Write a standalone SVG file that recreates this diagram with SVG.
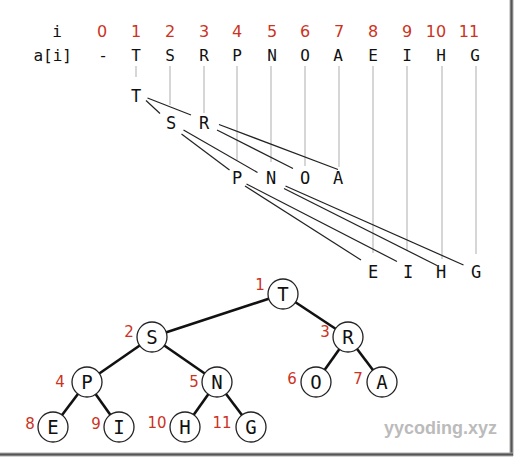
<svg xmlns="http://www.w3.org/2000/svg" width="515" height="458" viewBox="0 0 515 458">
<style>
.lt{font-family:"DejaVu Sans Mono","Liberation Mono",monospace;font-size:16px;fill:#111;text-anchor:middle}
.lm{font-size:17px}
.lc{font-size:19px}
.rd{font-family:"DejaVu Sans","Liberation Sans",sans-serif;font-size:16px;fill:#cc3322;text-anchor:middle}
.rs{font-family:"DejaVu Sans","Liberation Sans",sans-serif;font-size:15px;fill:#cc3322;text-anchor:middle}
.gl{stroke:#bbb;stroke-width:1.2;fill:none}
.bl{stroke:#222;stroke-width:1.2;fill:none}
.te{stroke:#111;stroke-width:2.6;fill:none}
.nc{fill:#fff;stroke:#222;stroke-width:1.3}
</style>
<rect width="515" height="458" fill="#fff"/>
<g id="frame">
<line x1="511.5" y1="0" x2="511.5" y2="456" stroke="#aaa" stroke-width="4"/>
<line x1="511.5" y1="0" x2="511.5" y2="456" stroke="#555" stroke-width="2"/>
<line x1="0" y1="454.5" x2="513" y2="454.5" stroke="#aaa" stroke-width="4"/>
<line x1="0" y1="454.5" x2="513" y2="454.5" stroke="#555" stroke-width="2"/>
</g>
<g id="array-header">
<text class="lt" x="57" y="37">i</text>
<text class="lt" x="72" y="61" style="text-anchor:end">a[i]</text>
<text class="rd" x="102" y="37">0</text>
<text class="rd" x="136" y="37">1</text>
<text class="rd" x="170" y="37">2</text>
<text class="rd" x="204" y="37">3</text>
<text class="rd" x="237" y="37">4</text>
<text class="rd" x="272" y="37">5</text>
<text class="rd" x="305" y="37">6</text>
<text class="rd" x="339" y="37">7</text>
<text class="rd" x="373" y="37">8</text>
<text class="rd" x="407" y="37">9</text>
<text class="rd" x="436" y="37">10</text>
<text class="rd" x="469" y="37">11</text>
<text class="lt" x="103" y="61">-</text>
<text class="lt" x="136" y="61">T</text>
<text class="lt" x="170" y="61">S</text>
<text class="lt" x="204" y="61">R</text>
<text class="lt" x="237" y="61">P</text>
<text class="lt" x="272" y="61">N</text>
<text class="lt" x="305" y="61">O</text>
<text class="lt" x="338" y="61">A</text>
<text class="lt" x="373" y="61">E</text>
<text class="lt" x="407" y="61">I</text>
<text class="lt" x="441" y="61">H</text>
<text class="lt" x="475" y="61">G</text>
</g>
<g id="connectors">
<line class="gl" x1="136" y1="66" x2="136" y2="77"/>
<line class="gl" x1="170" y1="66" x2="170" y2="105"/>
<line class="gl" x1="204" y1="66" x2="204" y2="113"/>
<line class="gl" x1="237" y1="66" x2="237" y2="160"/>
<line class="gl" x1="271" y1="66" x2="271" y2="162"/>
<line class="gl" x1="305" y1="66" x2="305" y2="166"/>
<line class="gl" x1="339" y1="66" x2="339" y2="167"/>
<line class="gl" x1="373" y1="66" x2="373" y2="253"/>
<line class="gl" x1="407" y1="66" x2="407" y2="251"/>
<line class="gl" x1="442" y1="66" x2="442" y2="259"/>
<line class="gl" x1="476" y1="66" x2="476" y2="254"/>
<line class="bl" x1="146" y1="100.5" x2="160" y2="113.5"/>
<line class="bl" x1="147.5" y1="98" x2="191" y2="115"/>
<line class="bl" x1="219" y1="124.5" x2="338" y2="169.5"/>
<line class="bl" x1="217" y1="130" x2="293" y2="168.5"/>
<line class="bl" x1="181.5" y1="134" x2="229.5" y2="170"/>
<line class="bl" x1="183.5" y1="130" x2="257.5" y2="172.5"/>
<line class="bl" x1="245" y1="186" x2="361" y2="260"/>
<line class="bl" x1="246.5" y1="184" x2="397" y2="261.5"/>
<line class="bl" x1="284" y1="188.5" x2="437" y2="265.5"/>
<line class="bl" x1="285.5" y1="186" x2="463.5" y2="265"/>
<line class="te" x1="283" y1="294" x2="152" y2="337"/>
<line class="te" x1="283" y1="294" x2="348" y2="337"/>
<line class="te" x1="152" y1="337" x2="87" y2="382"/>
<line class="te" x1="152" y1="337" x2="217" y2="382"/>
<line class="te" x1="348" y1="337" x2="316" y2="382"/>
<line class="te" x1="348" y1="337" x2="382" y2="382"/>
<line class="te" x1="87" y1="382" x2="53" y2="427"/>
<line class="te" x1="87" y1="382" x2="119" y2="427"/>
<line class="te" x1="217" y1="382" x2="185" y2="427"/>
<line class="te" x1="217" y1="382" x2="251" y2="427"/>
</g>
<g id="level-T"><text class="lt lm" x="136" y="102">T</text></g>
<g id="level-S"><text class="lt lm" x="171" y="129">S</text></g>
<g id="level-R"><text class="lt lm" x="204" y="129">R</text></g>
<g id="level-P"><text class="lt lm" x="237" y="184">P</text></g>
<g id="level-N"><text class="lt lm" x="271" y="184">N</text></g>
<g id="level-O"><text class="lt lm" x="305" y="184">O</text></g>
<g id="level-A"><text class="lt lm" x="338" y="184">A</text></g>
<g id="level-E"><text class="lt lm" x="373" y="278">E</text></g>
<g id="level-I"><text class="lt lm" x="408" y="278">I</text></g>
<g id="level-H"><text class="lt lm" x="441" y="278">H</text></g>
<g id="level-G"><text class="lt lm" x="476" y="278">G</text></g>
<g id="node-1"><circle class="nc" cx="283" cy="294" r="15"/><text class="lt lc" x="283" y="301">T</text><text class="rs" x="260" y="290">1</text></g>
<g id="node-2"><circle class="nc" cx="152" cy="337" r="15"/><text class="lt lc" x="152" y="344">S</text><text class="rs" x="129" y="337">2</text></g>
<g id="node-3"><circle class="nc" cx="348" cy="337" r="15"/><text class="lt lc" x="348" y="344">R</text><text class="rs" x="325" y="337">3</text></g>
<g id="node-4"><circle class="nc" cx="87" cy="382" r="15"/><text class="lt lc" x="87" y="389">P</text><text class="rs" x="60" y="387">4</text></g>
<g id="node-5"><circle class="nc" cx="217" cy="382" r="15"/><text class="lt lc" x="217" y="389">N</text><text class="rs" x="194" y="387">5</text></g>
<g id="node-6"><circle class="nc" cx="316" cy="382" r="15"/><text class="lt lc" x="316" y="389">O</text><text class="rs" x="292" y="384">6</text></g>
<g id="node-7"><circle class="nc" cx="382" cy="382" r="15"/><text class="lt lc" x="382" y="389">A</text><text class="rs" x="358" y="384">7</text></g>
<g id="node-8"><circle class="nc" cx="53" cy="427" r="15"/><text class="lt lc" x="53" y="434">E</text><text class="rs" x="30" y="429">8</text></g>
<g id="node-9"><circle class="nc" cx="119" cy="427" r="15"/><text class="lt lc" x="119" y="434">I</text><text class="rs" x="96" y="429">9</text></g>
<g id="node-10"><circle class="nc" cx="185" cy="427" r="15"/><text class="lt lc" x="185" y="434">H</text><text class="rs" x="157" y="428">10</text></g>
<g id="node-11"><circle class="nc" cx="251" cy="427" r="15"/><text class="lt lc" x="251" y="434">G</text><text class="rs" x="222" y="428">11</text></g>
<text x="497" y="434" style="font-family:'Liberation Sans',Arial,sans-serif;font-size:18px;font-weight:bold;fill:#bbb;text-anchor:end">yycoding.xyz</text>
</svg>
